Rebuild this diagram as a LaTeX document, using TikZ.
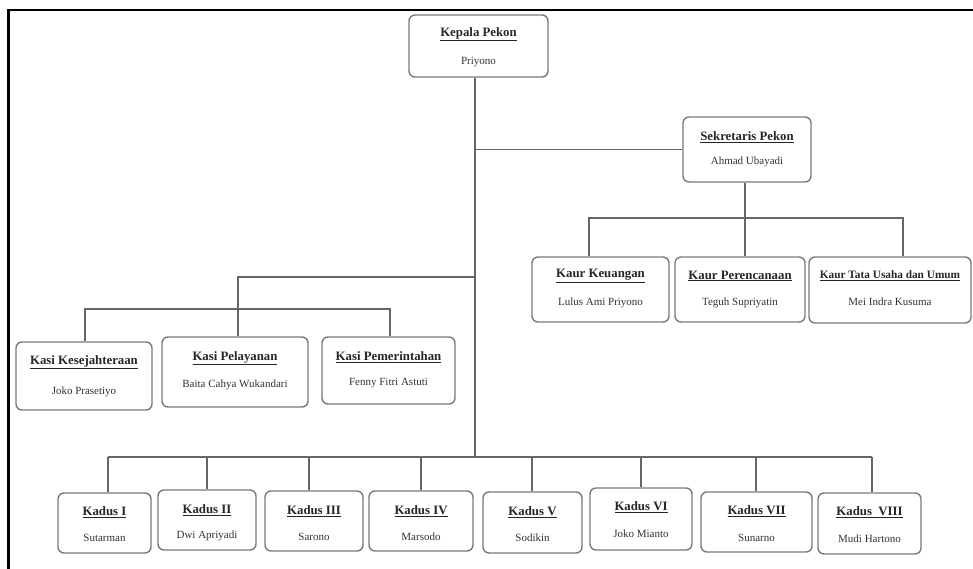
\documentclass[tikz,border=0pt]{standalone}
\usepackage{fontspec}
\setmainfont{Liberation Serif}
\definecolor{boxgray}{HTML}{7A7A7A}
\definecolor{linegray}{HTML}{666666}

% one organisational unit: name, x1, y1, x2, y2, title, person, title y, person y
\newcommand\orgunit[9]{%
  \node[unitbox, minimum width={#4-#2}, minimum height={#5-#3}] (#1) at ({(#2+#4)/2},{(#3+#5)/2}) {};
  \node[ttl] (#1-t) at ({(#2+#4)/2},#8) {\underline{#6}};
  \node[who] (#1-n) at ({(#2+#4)/2},#9) {#7};
}

\tikzset{
  unitbox/.style={draw=boxgray, line width=1.4pt, rounded corners=6pt, fill=white, inner sep=0pt},
  ttl/.style={font=\fontsize{12.8}{14}\selectfont\bfseries, inner sep=0pt, text=black!85},
  who/.style={font=\fontsize{11}{12}\selectfont, inner sep=0pt, text=black!80},
  link/.style={draw=linegray, line width=1.3pt},
  frame/.style={draw=black, line width=2.2pt, line join=miter},
}

\begin{document}
\begin{tikzpicture}[x=1pt, y=-1pt]
\useasboundingbox (0,0) rectangle (973,569);

% outer frame (top and left edges)
\draw[frame] (973,10) -- (8.5,10) -- (8.5,569);

% head and secretary
\orgunit{kepala}{409}{15}{548}{77}{Kepala Pekon}{Priyono}{34}{62}
\orgunit{sek}{683}{117}{811}{182}{Sekretaris Pekon}{Ahmad Ubayadi}{137}{162}

% kaur units
\orgunit{kaur1}{532}{257}{669}{322}{Kaur Keuangan}{Lulus Ami Priyono}{276}{303}
\orgunit{kaur2}{675}{257}{805}{322}{Kaur Perencanaan}{Teguh Supriyatin}{276}{303}
\orgunit{kaur3}{809}{257}{971}{323}{{\fontsize{11.3}{12}\selectfont Kaur Tata Usaha dan Umum}}{Mei Indra Kusuma}{276}{302}

% kasi units
\orgunit{kasi1}{16}{342}{152}{410}{Kasi Kesejahteraan}{Joko Prasetiyo}{362}{392}
\orgunit{kasi2}{162}{337}{308}{407}{Kasi Pelayanan}{Baita Cahya Wukandari}{358}{385}
\orgunit{kasi3}{322}{337}{455}{404}{Kasi Pemerintahan}{Fenny Fitri Astuti}{357}{383}

% kadus units
\orgunit{kadus1}{58}{493}{151}{553}{Kadus I}{Sutarman}{512}{538}
\orgunit{kadus2}{158}{490}{256}{550}{Kadus II}{Dwi Apriyadi}{510}{536}
\orgunit{kadus3}{265}{491}{363}{551}{Kadus III}{Sarono}{511}{537}
\orgunit{kadus4}{369}{491}{473}{551}{Kadus IV}{Marsodo}{511}{537}
\orgunit{kadus5}{483}{492}{582}{553}{Kadus V}{Sodikin}{512}{538}
\orgunit{kadus6}{590}{488}{692}{550}{Kadus VI}{Joko Mianto}{507}{534}
\orgunit{kadus7}{701}{492}{812}{552}{Kadus VII}{Sunarno}{511}{538}
\orgunit{kadus8}{818}{493}{921}{554}{Kadus\ \ VIII}{Mudi Hartono}{512}{539}

% main trunk and its junctions
\coordinate (tx) at (475,0);
\coordinate (jSek) at (tx |- sek.west);
\coordinate (jKasi) at (475,277);
\coordinate (jKadus) at (475,457);
\draw[link] (kepala.south -| tx) -- (jKadus);
\draw[link] (jSek) -- (sek.west);

% secretary to kaur units
\coordinate (kr1) at (589,218);
\coordinate (kr2) at (745,218);
\coordinate (kr3) at (903,218);
\draw[link] (sek.south -| kr2) -- (kr2) -- (kr2 |- kaur2.north);
\draw[link] (kr1 |- kaur1.north) -- (kr1) -- (kr3) -- (kr3 |- kaur3.north);

% trunk to kasi units
\coordinate (kasiTop) at (238,277);
\coordinate (kb1) at (85,309);
\coordinate (kb3) at (390,309);
\draw[link] (jKasi) -- (kasiTop) -- (kasiTop |- kasi2.north);
\draw[link] (kb1 |- kasi1.north) -- (kb1) -- (kb3) -- (kb3 |- kasi3.north);

% trunk to kadus units
\foreach \i/\x in {1/108, 2/207, 3/309, 4/421, 5/532, 6/641, 7/756, 8/872} {
  \coordinate (d\i) at (\x,457);
  \draw[link] (d\i) -- (d\i |- kadus\i.north);
}
\draw[link] (d1) -- (d8);
\end{tikzpicture}
\end{document}
